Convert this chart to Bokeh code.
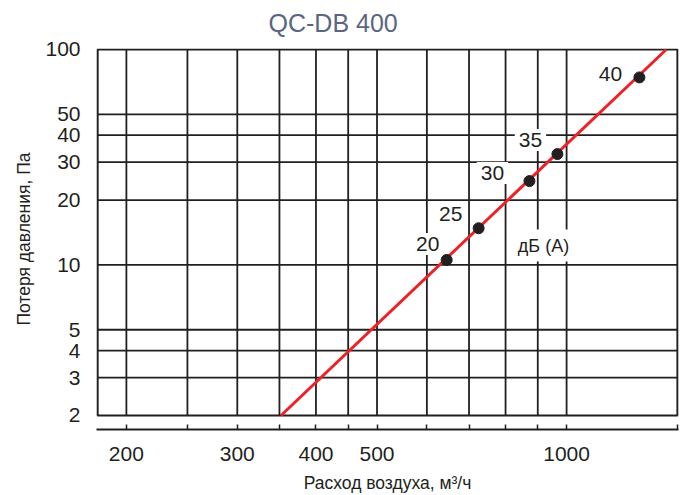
from bokeh.plotting import figure
from bokeh.models import FixedTicker, Label, Range1d, Title
from bokeh.embed import file_html
from bokeh.resources import INLINE

# ---- data ----
title_text = "QC-DB 400"
x_label = "Расход воздуха, м³/ч"
y_label = "Потеря давления, Па"

x_grid = [200, 250, 300, 350, 400, 450, 500, 600, 700, 800, 900, 1000]
x_ticks = [200, 250, 300, 350, 400, 450, 500, 600, 700, 800, 900, 1000, 1500]
x_tick_labels = ["200", "300", "400", "500", "1000"]
y_grid = [3, 4, 5, 10, 20, 30, 40, 50]
y_tick_values = [2, 3, 4, 5, 10, 20, 30, 40, 50, 100]
y_tick_labels = ["2", "3", "4", "5", "10", "20", "30", "40", "50", "100"]

line_flow = [352, 1440]
line_pressure = [2, 100]

noise_db = ["20", "25", "30", "35", "40"]
point_flow = [645, 725, 873, 967, 1305]
point_pressure = [10.55, 14.8, 24.5, 32.7, 74.2]

unit_text = "дБ (A)"
unit_flow = 919
unit_pressure = 12.3

# ---- layout / style ----
XMIN, XMAX = 180, 1500
YMIN, YMAX = 2, 100
X_FRAME = (179.3, 1505.5)
Y_FRAME = (1.722, 101.07)
label_dx = [-19, -28, -37, -27, -29]
label_dy = [16, 14, 8, 14, 3]
FONT = "Liberation Sans"
INK = "#231f20"

p = figure(width=686, height=495, x_axis_type="log", y_axis_type="log",
           x_range=Range1d(*X_FRAME), y_range=Range1d(*Y_FRAME),
           output_backend="svg", toolbar_location=None,
           min_border_left=96, min_border_right=8, min_border_top=48, min_border_bottom=66)
p.outline_line_color = None
p.xgrid.visible = False
p.ygrid.visible = False
p.background_fill_color = "white"
p.border_fill_color = "white"

# spacer panel between the title and the frame
p.add_layout(Title(text=" ", text_font_size="1px", standoff=4), "above")

# title
p.title.text = title_text
p.title.align = "left"
p.title.offset = 172
p.title.text_font = FONT
p.title.text_font_size = "25px"
p.title.text_font_style = "normal"
p.title.text_color = "#5a6585"
p.title.standoff = 10

# x axis
xa = p.xaxis[0]
xa.ticker = FixedTicker(ticks=x_ticks)
xa.minor_tick_line_color = None
xa.major_tick_in = 5
xa.major_tick_out = 0
xa.major_tick_line_color = INK
xa.major_tick_line_width = 1.5
xa.axis_line_color = INK
xa.axis_line_width = 2
overrides = {}
for t in x_ticks:
    overrides[t] = ""
for s in x_tick_labels:
    overrides[int(s)] = s
xa.major_label_overrides = overrides
xa.major_label_text_font = FONT
xa.major_label_text_font_size = "21px"
xa.major_label_text_color = INK
xa.major_label_standoff = 17
xa.axis_label = x_label
xa.axis_label_text_font = FONT
xa.axis_label_text_font_size = "17.5px"
xa.axis_label_text_font_style = "normal"
xa.axis_label_text_color = INK
xa.axis_label_standoff = 9

# y axis
ya = p.yaxis[0]
ya.ticker = FixedTicker(ticks=y_tick_values)
ya.major_label_overrides = {v: s for v, s in zip(y_tick_values, y_tick_labels)}
ya.minor_tick_line_color = None
ya.major_tick_out = 0
ya.major_tick_in = 0
ya.major_tick_line_color = None
ya.axis_line_color = None
ya.major_label_text_font = FONT
ya.major_label_text_font_size = "21px"
ya.major_label_text_color = INK
ya.major_label_standoff = 16
ya.axis_label = y_label
ya.axis_label_text_font = FONT
ya.axis_label_text_font_size = "17.5px"
ya.axis_label_text_font_style = "normal"
ya.axis_label_text_color = INK
ya.axis_label_standoff = 8

# grid and border
p.segment(x0=x_grid, y0=[YMIN] * len(x_grid), x1=x_grid, y1=[YMAX] * len(x_grid),
          line_color=INK, line_width=1.8)
p.segment(x0=[XMIN] * len(y_grid), y0=y_grid, x1=[XMAX] * len(y_grid), y1=y_grid,
          line_color=INK, line_width=1.8)
p.quad(left=[XMIN], right=[XMAX], bottom=[YMIN], top=[YMAX], fill_color=None,
       line_color=INK, line_width=2.2)

# curve and points
p.line(line_flow, line_pressure, line_color="#ec2227", line_width=3)
p.scatter(point_flow, point_pressure, size=11, color=INK)

for s, xv, yv, dx, dy in zip(noise_db, point_flow, point_pressure, label_dx, label_dy):
    p.add_layout(Label(x=xv, y=yv, x_offset=dx, y_offset=dy, text=s, text_font=FONT,
                       text_font_size="21px", text_color=INK, text_align="center",
                       text_baseline="middle", background_fill_color="white",
                       padding=4))

p.add_layout(Label(x=unit_flow, y=unit_pressure, text=unit_text, text_font=FONT,
                   text_font_size="18px", text_color=INK, text_align="center",
                   text_baseline="middle", background_fill_color="white", padding=6))

open("out.html", "w").write(file_html(p, INLINE))
